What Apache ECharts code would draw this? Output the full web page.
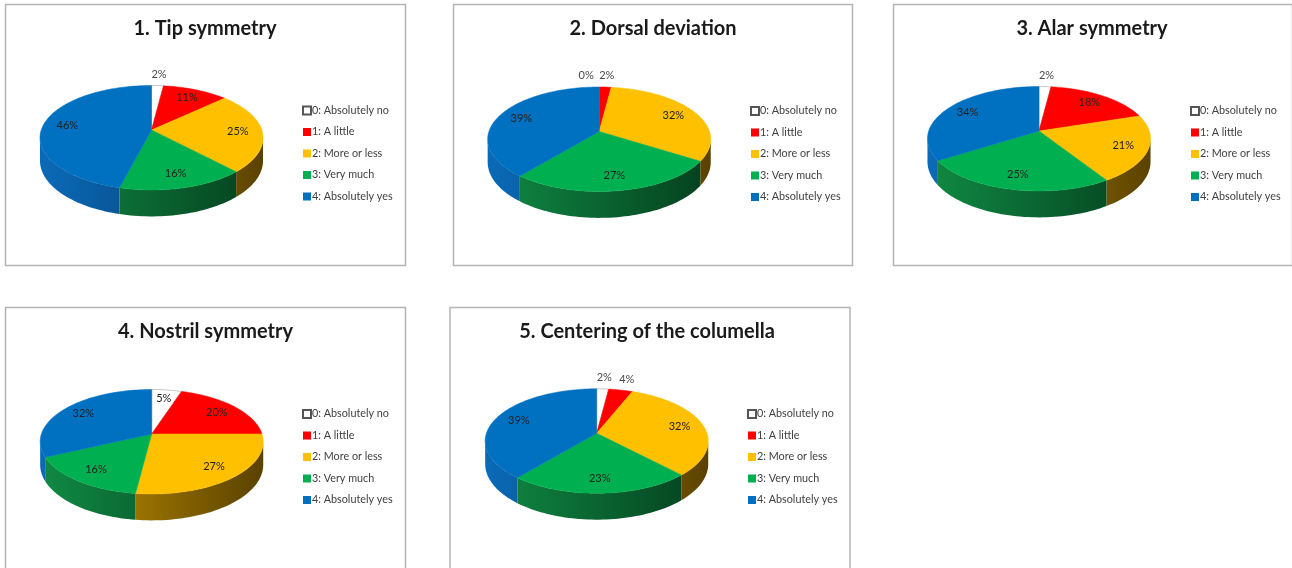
<!DOCTYPE html>
<html>
<head>
<meta charset="utf-8">
<title>Pie charts</title>
<style>
  html, body { margin: 0; padding: 0; background: #fff; }
  #main { width: 1292px; height: 568px; }
</style>
<script src="https://cdn.jsdelivr.net/npm/echarts@6/dist/echarts.min.js"></script>
</head>
<body>
<div id="main"></div>
<script>
const panelTitles = ['1. Tip symmetry', '2. Dorsal deviation', '3. Alar symmetry', '4. Nostril symmetry', '5. Centering of the columella'];
const categories = ['0: Absolutely no', '1: A little', '2: More or less', '3: Very much', '4: Absolutely yes'];

// one value per panel
const absolutelyNo = [2, 0, 2, 5, 2];
const aLittle = [11, 2, 18, 20, 4];
const moreOrLess = [25, 32, 21, 27, 32];
const veryMuch = [16, 27, 25, 16, 23];
const absolutelyYes = [46, 39, 34, 32, 39];
const seriesValues = [absolutelyNo, aLittle, moreOrLess, veryMuch, absolutelyYes];

const topColors = ['#ffffff', '#ff0000', '#ffc000', '#00b050', '#0070c0'];
// wall shading runs across the whole pie, left to right
const sideStops = [
    [[0, '#dddddd'], [1, '#bbbbbb']],
    [[0, '#a00000'], [1, '#700000']],
    [[0, '#c49200'], [0.43, '#9a7300'], [1, '#5a4100']],
    [[0, '#108a44'], [1, '#053f1e']],
    [[0, '#0b6ab8'], [0.5, '#08508c'], [1, '#06406f']]
];

// panel boxes and pie apex in pixels
const frames = [
    {x: 5.5, y: 4.5, w: 400, h: 261, cx: 151.5, cy: 130, titleX: 205, titleY: 19, legendX: 302, legendY: 104.5},
    {x: 453.5, y: 4.5, w: 399, h: 261, cx: 599.2, cy: 131.5, titleX: 653, titleY: 19, legendX: 750, legendY: 105},
    {x: 893.5, y: 4.5, w: 399, h: 261, cx: 1039, cy: 131, titleX: 1092, titleY: 19, legendX: 1190, legendY: 105},
    {x: 5.5, y: 307.5, w: 400, h: 280, cx: 151.7, cy: 434, titleX: 205.5, titleY: 322, legendX: 302, legendY: 408},
    {x: 450, y: 307.5, w: 400, h: 280, cx: 596.7, cy: 433.3, titleX: 647, titleY: 322, legendX: 747, legendY: 408}
];

const fontName = 'Lato';
const perspective = 0.148;
const radiusX = 110.3;
const radiusY = 51.1;
const depth = 22.5;

// circle point (fraction of radius, angle clockwise from top) to screen offset
function project(r, angle) {
    let u = r * Math.sin(angle);
    let v = r * Math.cos(angle);
    let w = 1 + perspective * v;
    return {x: radiusX * u / w, y: -radiusY * v / w, w: w};
}

function cumulative(panel, seriesIndex) {
    let sum = 0;
    for (let i = 0; i < seriesIndex; i++) {
        sum += seriesValues[i][panel];
    }
    return sum;
}

function arcAngles(a0, a1) {
    let out = [];
    let n = Math.max(2, Math.ceil((a1 - a0) / 0.03));
    for (let i = 0; i <= n; i++) {
        out.push(a0 + (a1 - a0) * i / n);
    }
    return out;
}

function makeRenderItem(seriesIndex) {
    return function (params, api) {
        let panel = api.value(0);
        let value = api.value(1);
        let f = frames[panel];
        let children = [];
        let a0 = cumulative(panel, seriesIndex) / 100 * Math.PI * 2;
        let a1 = a0 + value / 100 * Math.PI * 2;

        if (value > 0) {
            // wall: only the front part between the two silhouette points
            let limit = Math.acos(-perspective);
            let w0 = Math.max(a0, limit);
            let w1 = Math.min(a1, Math.PI * 2 - limit);
            if (w1 > w0) {
                let upper = [], lower = [];
                arcAngles(w0, w1).forEach(function (a) {
                    let p = project(1, a);
                    upper.push([f.cx + p.x, f.cy + p.y]);
                    lower.unshift([f.cx + p.x, f.cy + p.y + depth / p.w]);
                });
                children.push({
                    type: 'polygon',
                    shape: {points: upper.concat(lower)},
                    style: {fill: new echarts.graphic.LinearGradient(f.cx - 112, 0, f.cx + 112, 0,
                        sideStops[seriesIndex].map(function (s) { return {offset: s[0], color: s[1]}; }), true)}
                });
            }
            let pts = [[f.cx, f.cy]];
            arcAngles(a0, a1).forEach(function (a) {
                let p = project(1, a);
                pts.push([f.cx + p.x, f.cy + p.y]);
            });
            children.push({
                type: 'polygon',
                shape: {points: pts},
                style: {
                    fill: topColors[seriesIndex],
                    stroke: seriesIndex === 0 ? '#c8c8c8' : topColors[seriesIndex],
                    lineWidth: seriesIndex === 0 ? 1 : 0.5
                }
            });
        }

        // small slices get their label outside, above the pie
        let outside = value < 5;
        let mid = project(outside ? 1.3 : 0.78, (a0 + a1) / 2);
        children.push({
            type: 'text',
            z2: 20,
            style: {
                x: f.cx + mid.x - (value === 0 ? 13 : 0),
                y: f.cy + mid.y,
                text: value + '%',
                fill: outside ? '#4a4a4a' : '#222',
                font: '11px ' + fontName,
                align: 'center',
                verticalAlign: 'middle'
            }
        });
        return {type: 'group', children: children};
    };
}

const chart = echarts.init(document.getElementById('main'));
chart.setOption({
    animation: false,
    backgroundColor: '#fff',
    textStyle: {fontFamily: fontName},
    title: panelTitles.map(function (t, i) {
        return {
            text: t,
            left: frames[i].titleX,
            top: frames[i].titleY,
            textAlign: 'center',
            padding: 0,
            textStyle: {fontFamily: fontName, fontWeight: 'bold', fontSize: 20, color: '#1a1a1a'}
        };
    }),
    legend: frames.map(function (f) {
        return {
            data: categories,
            orient: 'vertical',
            left: f.legendX,
            top: f.legendY,
            padding: 0,
            icon: 'rect',
            itemWidth: 8,
            itemHeight: 8,
            itemGap: 9.5,
            selectedMode: false,
            textStyle: {fontFamily: fontName, fontSize: 10.8, lineHeight: 12, color: '#404040', padding: [0, 0, 0, -4]}
        };
    }),
    graphic: frames.map(function (f) {
        return {
            type: 'rect',
            shape: {x: f.x, y: f.y, width: f.w, height: f.h},
            style: {fill: 'none', stroke: '#b4b4b4', lineWidth: 1.5},
            silent: true
        };
    }),
    series: categories.map(function (name, s) {
        return {
            type: 'custom',
            name: name,
            coordinateSystem: 'none',
            itemStyle: {
                color: topColors[s],
                borderColor: s === 0 ? '#555' : topColors[s],
                borderWidth: s === 0 ? 1 : 0
            },
            renderItem: makeRenderItem(s),
            data: seriesValues[s].map(function (v, p) { return [p, v]; })
        };
    })
});
</script>
</body>
</html>
